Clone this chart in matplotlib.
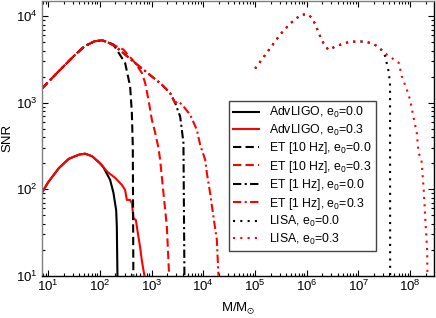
import numpy as np
import matplotlib
matplotlib.use('Agg')
import matplotlib.pyplot as plt

plt.rcParams['font.family'] = ['Liberation Sans', 'DejaVu Sans']
plt.rcParams['mathtext.fontset'] = 'custom'
plt.rcParams['mathtext.rm'] = 'Liberation Sans'
plt.rcParams['mathtext.it'] = 'Liberation Sans'
plt.rcParams['mathtext.default'] = 'regular'

# AdvLIGO
ligo0_m = [7.5, 10, 16, 25, 40, 52, 71, 100, 116, 145, 158, 183, 207, 213, 219]
ligo0_snr = [90, 120, 174, 224, 251, 257, 240, 200, 181, 141, 128, 91, 57, 37, 10]
ligo3_m = [7.5, 10, 16, 25, 40, 52, 71, 100, 116, 141, 198, 266, 308, 333, 385,
           416, 447, 497, 558, 603, 649, 697, 729]
ligo3_snr = [90, 120, 174, 224, 251, 257, 240, 200, 181, 158, 135, 112, 98, 75, 75,
             69, 46, 44, 28, 21, 15, 11.6, 10]

# ET [10 Hz]
et10_0_m = [7.5, 15.8, 31.6, 50, 79, 111, 141, 183, 308, 385, 416, 434, 445]
et10_0_snr = [1450, 2290, 3470, 4470, 5130, 5250, 5010, 4700, 2880, 1550, 766, 312, 10]
et10_3_m = [7.5, 15.8, 31.6, 50, 79, 111, 141, 286, 482, 649, 752, 871, 1014,
            1175, 1358, 1466, 1698, 1977, 2188]
et10_3_snr = [1450, 2290, 3470, 4470, 5130, 5250, 5010, 4110, 2880, 2210, 1690, 1084, 635,
              449, 301, 219, 91, 37, 10]

# ET [1 Hz]
et1_0_m = [7.5, 15.8, 31.6, 50, 79, 111, 141, 200, 316, 501, 697, 1581, 2291,
           2858, 3573, 3855, 4140, 4325]
et1_0_snr = [1450, 2290, 3470, 4470, 5130, 5250, 5010, 4470, 3550, 2820, 2410, 1618, 1288,
             993, 693, 486, 341, 10]
et1_3_m = [7.5, 15.8, 31.6, 50, 79, 111, 141, 200, 316, 501, 697, 1581, 2291,
           2858, 3327, 4140, 5572, 7516, 8710, 10890, 11750, 13580, 15740, 18320, 19680]
et1_3_snr = [1450, 2290, 3470, 4470, 5130, 5250, 5010, 4470, 3550, 2820, 2410, 1618, 1288,
             993, 1035, 906, 726, 486, 326, 219, 153, 90, 48, 26, 10]

# LISA
lisa0_m = [1.01e5, 1.78e5, 3.11e5, 4.80e5, 7.73e5, 1.05e6, 1.28e6, 1.51e6, 1.82e6,
           2.18e6, 2.64e6, 3.61e6, 4.93e6, 6.73e6, 9.06e6, 1.26e7, 1.69e7, 2.28e7,
           2.84e7, 3.30e7, 3.82e7, 4.10e7, 4.12e7]
lisa0_snr = [2477, 3926, 6194, 8222, 10380, 10540, 9484, 7745, 5861,
             4699, 4083, 4457, 4786, 5047, 5093, 5093, 4920, 4539,
             4036, 3443, 2350, 1690, 10]
lisa3_m = [1.01e5, 1.78e5, 3.11e5, 4.80e5, 7.73e5, 1.05e6, 1.28e6, 1.51e6, 1.82e6,
           2.18e6, 2.64e6, 3.61e6, 4.93e6, 6.73e6, 9.06e6, 1.26e7, 1.69e7, 2.28e7,
           2.84e7, 3.55e7, 6.07e7, 6.92e7, 8.67e7, 1.00e8, 1.16e8, 1.35e8, 1.46e8,
           1.66e8, 1.84e8, 2.01e8, 2.14e8, 2.17e8]
lisa3_snr = [2477, 3926, 6194, 8222, 10380, 10540, 9484, 7745, 5861,
             4699, 4083, 4457, 4786, 5047, 5093, 5093, 4920, 4539,
             4036, 3597, 2884, 2018, 1416, 1084, 693, 446, 263,
             219, 98, 37, 20, 10]

fig = plt.figure(figsize=(4.36, 3.18), dpi=100)
ax = fig.add_axes([0.0956, 0.1333, 0.8997, 0.8637])

lw = 1.5
dash = (0, (4, 2))
dashdot = (0, (4, 1.6, 1, 1.6))
dot = (0, (1, 2.5))
ax.plot(ligo0_m, ligo0_snr, color='k', lw=lw, ls='-', label='AdvLIGO, e$_0$=0.0')
ax.plot(ligo3_m, ligo3_snr, color='r', lw=lw, ls='-', label='AdvLIGO, e$_0$=0.3')
ax.plot(et10_0_m, et10_0_snr, color='k', lw=lw, ls=dash, label='ET [10 Hz], e$_0$=0.0')
ax.plot(et10_3_m, et10_3_snr, color='r', lw=lw, ls=dash, label='ET [10 Hz], e$_0$=0.3')
ax.plot(et1_0_m, et1_0_snr, color='k', lw=lw, ls=dashdot, label='ET [1 Hz], e$_0$=0.0')
ax.plot(et1_3_m, et1_3_snr, color='r', lw=lw, ls=dashdot, label='ET [1 Hz], e$_0$=0.3')
ax.plot(lisa0_m, lisa0_snr, color='k', lw=lw, ls=dot, label='LISA, e$_0$=0.0')
ax.plot(lisa3_m, lisa3_snr, color='r', lw=lw, ls=dot, label='LISA, e$_0$=0.3')

ax.set_xscale('log')
ax.set_yscale('log')
ax.set_xlim(7.5, 2.9e8)
ax.set_ylim(10, 1.5e4)
ax.set_xticks([10.0**k for k in range(1, 9)])
ax.set_yticks([10.0**k for k in range(1, 5)])
ax.tick_params(which='both', direction='in', top=True, right=True, labelsize=9.5)
ax.tick_params(which='major', length=4.3, width=0.8)
ax.tick_params(which='minor', length=2.4, width=0.8)
ax.tick_params(axis='x', pad=2)
ax.tick_params(axis='y', pad=3)
for side in ['left', 'top']:
    ax.spines[side].set_color('#808080')
for side in ax.spines:
    ax.spines[side].set_linewidth(1.0)

ax.set_xlabel(r'M/M$_{\odot}$', fontsize=9.5, labelpad=5)
ax.set_ylabel('SNR', fontsize=9.5, labelpad=2)

leg = ax.legend(loc='lower left', bbox_to_anchor=(0.4775, 0.0896), fontsize=8.8,
                frameon=True, fancybox=False, framealpha=1, edgecolor='#444444',
                handlelength=2.1, handletextpad=0.85, labelspacing=0.2,
                borderpad=0.35, borderaxespad=0)
leg.get_frame().set_linewidth(1.0)

fig.savefig('out.png', dpi=100)
